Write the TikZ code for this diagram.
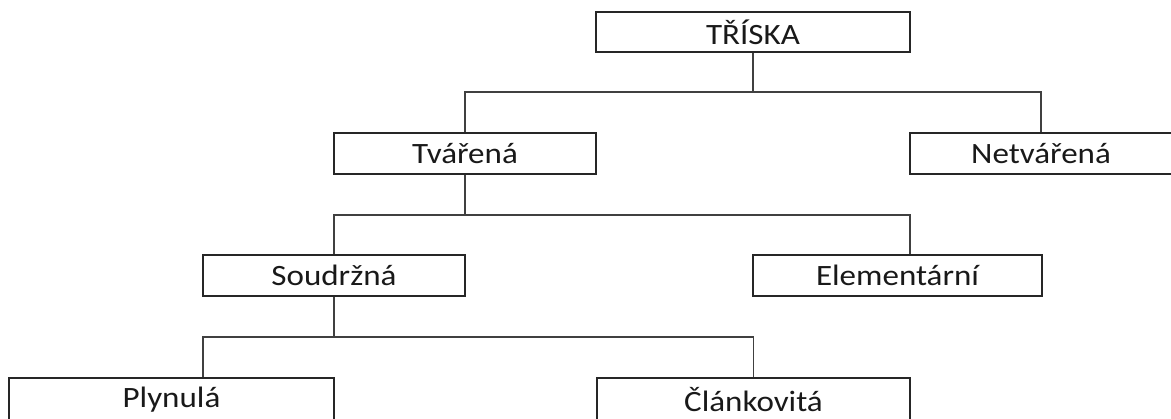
\documentclass[tikz,border=0pt]{standalone}
\usepackage{fontspec}
\setmainfont{Carlito}[FakeStretch=1.12]
\begin{document}
\begin{tikzpicture}[x=1pt,y=-1pt,
  box/.style={draw=black!85,line width=1.4pt,inner sep=0pt,font=\fontsize{29.5}{32}\selectfont,text=black!90},
  conn/.style={draw=black!75,line width=1.4pt}]
\useasboundingbox (0,0) rectangle (1171,419);
\fill[white] (0,0) rectangle (1171,419);
\node[box,minimum width=314pt,minimum height=40pt] (t) at (753,32) {TŘÍSKA};
\node[box,minimum width=262pt,minimum height=41pt] (tv) at (465,153.5) {Tvářená};
\node[box,minimum width=262pt,minimum height=41pt] (nt) at (1041,153.5) {Netvářená};
\node[box,minimum width=262pt,minimum height=41pt] (so) at (334,275.5) {Soudržná};
\node[box,minimum width=289pt,minimum height=41pt] (el) at (897.5,275.5) {Elementární};
\node[box,minimum width=325pt,minimum height=43pt] (pl) at (171.5,399.5) {Plynulá};
\node[box,minimum width=313pt,minimum height=43pt] (cl) at (753.5,399.5) {Článkovitá};
\coordinate (j1) at (753,92);
\coordinate (j2) at (465,215);
\coordinate (j3) at (334,337);
\draw[conn] (t.south) -- (j1);
\draw[conn] (j1) -| (tv.north);
\draw[conn] (j1) -| (nt.north);
\draw[conn] (tv.south) -- (j2);
\draw[conn] (j2) -| (so.north);
\draw[conn] (j2) -| ([xshift=12.5pt]el.north);
\draw[conn] (so.south) -- (j3);
\draw[conn] (j3) -| ([xshift=31.5pt]pl.north);
\draw[conn] (j3) -| (cl.north);
\end{tikzpicture}
\end{document}
